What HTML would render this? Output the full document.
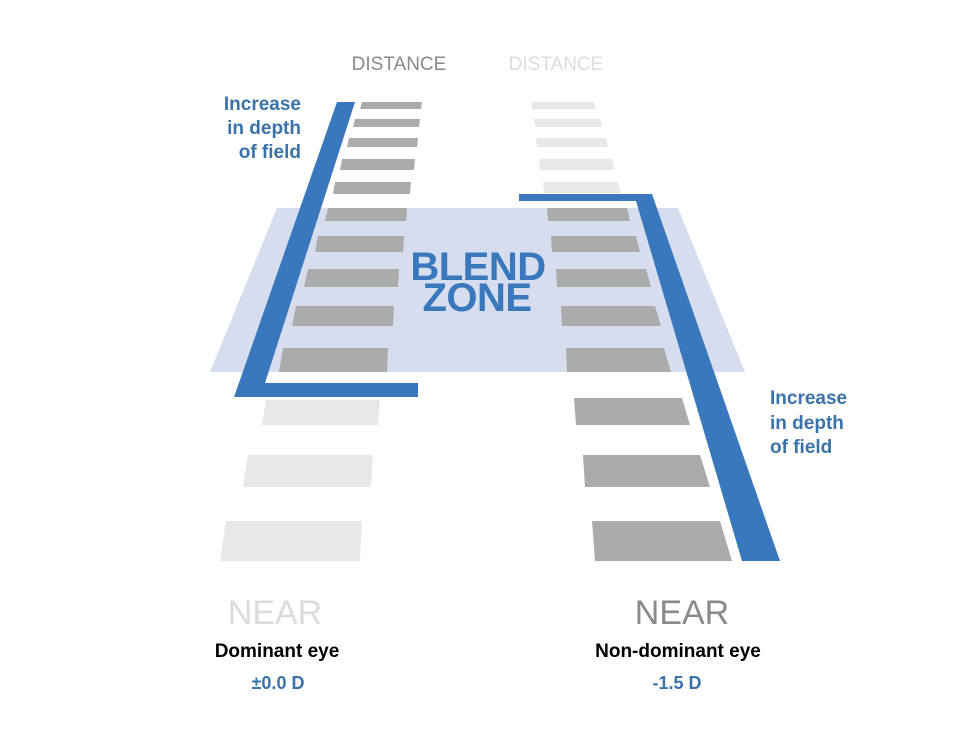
<!DOCTYPE html>
<html><head><meta charset="utf-8"><style>
body{margin:0;background:#fff;width:980px;height:730px;overflow:hidden}
svg text{font-family:"Liberation Sans","DejaVu Sans",sans-serif}
</style></head><body>
<svg width="980" height="730" viewBox="0 0 980 730" xmlns="http://www.w3.org/2000/svg">
<polygon points="277,208 678,208 745,372 210,372" fill="#d6ddee"/>
<g fill="#ababab">
<polygon points="362,102 422,102 421,109 360,109"/>
<polygon points="355,119 420,119 419,127 353,127"/>
<polygon points="349,138 418,138 417,147 347,147"/>
<polygon points="342,159 415,159 414,170 340,170"/>
<polygon points="335,182 411,182 410,194 333,194"/>
<polygon points="328,208 407,208 406,221 325,221"/>
<polygon points="318,236 404,236 403,252 315,252"/>
<polygon points="308,269 399,269 398,287 304,287"/>
<polygon points="296,306 394,306 393,326 292,326"/>
<polygon points="283,348 388,348 387,372 279,372"/>
</g>
<g fill="#e8e8e8">
<polygon points="266,400 380,400 378,425 262,425"/>
<polygon points="248,455 373,455 371,487 243,487"/>
<polygon points="226,521 362,521 360,561 220,561"/>
<polygon points="532,102 594,102 596,109 532,109"/>
<polygon points="534,119 600,119 602,127 535,127"/>
<polygon points="536,138 606,138 608,147 537,147"/>
<polygon points="539,159 612,159 615,170 540,170"/>
<polygon points="543,182 618,182 621,193 544,193"/>
</g>
<g fill="#ababab">
<polygon points="547,208 627,208 630,221 548,221"/>
<polygon points="551,236 636,236 640,252 552,252"/>
<polygon points="556,269 646,269 651,287 557,287"/>
<polygon points="561,306 655,306 661,326 562,326"/>
<polygon points="566,348 664,348 671,372 567,372"/>
<polygon points="574,398 682,398 690,425 576,425"/>
<polygon points="583,455 700,455 710,487 585,487"/>
<polygon points="592,521 720,521 732,561 595,561"/>
</g>
<polygon points="337,102 355,102 265,383 418,383 418,397 234,397" fill="#3a78bd"/>
<polygon points="519,194 652,194 780,561 742,561 636,201 519,201" fill="#3a78bd"/>
<g font-weight="bold" fill="#3a78bd" text-anchor="middle" font-size="40" letter-spacing="-0.5">
<text x="478" y="280">BLEND</text>
<text x="477" y="311">ZONE</text>
</g>
<text x="399" y="70" font-size="19" fill="#8a8a8a" text-anchor="middle">DISTANCE</text>
<text x="556" y="70" font-size="19" fill="#dcdcdc" text-anchor="middle">DISTANCE</text>
<g font-weight="bold" fill="#3a72aa" font-size="19">
<text x="301" y="110" text-anchor="end">Increase</text>
<text x="301" y="134" text-anchor="end">in depth</text>
<text x="301" y="158" text-anchor="end">of field</text>
<text x="770" y="404">Increase</text>
<text x="770" y="429">in depth</text>
<text x="770" y="453">of field</text>
</g>
<text x="275" y="624" font-size="34" fill="#dcdcdc" text-anchor="middle">NEAR</text>
<text x="682" y="624" font-size="34" fill="#8a8a8a" text-anchor="middle">NEAR</text>
<g font-weight="bold" text-anchor="middle" font-size="19">
<text x="277" y="657" fill="#000">Dominant eye</text>
<text x="678" y="657" fill="#000">Non-dominant eye</text>
<text x="278" y="689" fill="#3a72aa" font-size="18">±0.0 D</text>
<text x="677" y="689" fill="#3a72aa" font-size="18">-1.5 D</text>
</g>
</svg>
</body></html>
